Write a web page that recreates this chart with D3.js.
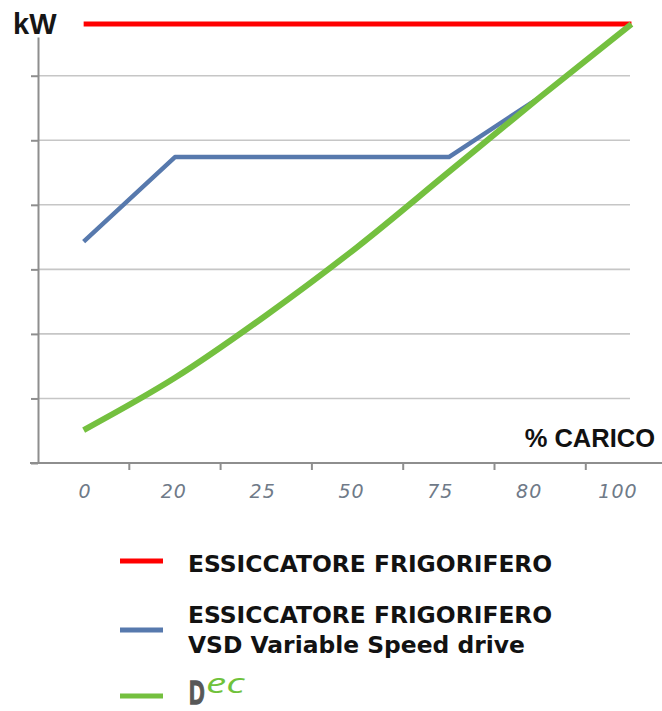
<!DOCTYPE html>
<html><head><meta charset="utf-8">
<script src="https://cdn.jsdelivr.net/npm/d3@7"></script>
<style>html,body{margin:0;padding:0;background:#fff;overflow:hidden}</style>
</head><body><svg id="c" width="662" height="711"></svg>
<script>
// ---- data ----
const categories = ["0", "20", "25", "50", "75", "80", "100"];
const redValues = [6.8, 6.8, 6.8, 6.8, 6.8, 6.8, 6.8];
const blueValues = [3.43, 4.74, 4.74, 4.74, 4.74, 5.67, null];
const greenValues = [0.51, 1.32, 2.29, 3.35, 4.51, 5.67, 6.8];
const yTickValues = [0, 1, 2, 3, 4, 5, 6];
const gridValues = [1, 2, 3, 4, 5, 6];
const yLabel = "kW";
const xLabel = "% CARICO";
const seriesNames = [
  ["ESSICCATORE FRIGORIFERO"],
  ["ESSICCATORE FRIGORIFERO", "VSD Variable Speed drive"],
  ["D", "ec"]
];

// ---- layout ----
const svg = d3.select("#c");
const plotLeft = 38, plotBottom = 463, plotTop = 37, step = 91.3;
const colors = {red: "#ff0000", blue: "#5779ad", green: "#74c03f"};

const x = d3.scaleBand().domain(categories).range([plotLeft, plotLeft + step * categories.length]).padding(0);
const xLab = d3.scalePoint().domain(categories).range([85, 618]);
const y = d3.scaleLinear().domain([0, 6.6]).range([plotBottom, plotTop]);
const cx = c => x(c) + x.bandwidth() / 2;

// gridlines
svg.append("g").selectAll("line").data(gridValues).join("line")
  .attr("x1", plotLeft).attr("x2", 630)
  .attr("y1", d => y(d)).attr("y2", d => y(d))
  .attr("stroke", "#c6c6c6").attr("stroke-width", 1.6);

// y axis
const yAxis = svg.append("g").attr("transform", `translate(${plotLeft},0)`)
  .call(d3.axisLeft(y).tickValues(yTickValues).tickSize(7).tickSizeOuter(0).tickFormat(""));
yAxis.selectAll("path,line").attr("stroke", "#8e8e8e").attr("stroke-width", 2);

// x axis line + boundary ticks
svg.append("line").attr("x1", plotLeft - 8).attr("x2", 662).attr("y1", plotBottom).attr("y2", plotBottom)
  .attr("stroke", "#8e8e8e").attr("stroke-width", 2);
svg.append("g").selectAll("line").data(categories).join("line")
  .attr("x1", d => x(d) + x.step()).attr("x2", d => x(d) + x.step())
  .attr("y1", plotBottom).attr("y2", plotBottom + 7)
  .attr("stroke", "#8e8e8e").attr("stroke-width", 2);

// x labels
svg.append("g").selectAll("text").data(categories).join("text")
  .attr("x", d => xLab(d)).attr("y", 498)
  .attr("text-anchor", "middle")
  .attr("font-family", "DejaVu Sans").attr("font-style", "oblique")
  .attr("font-size", 19).attr("letter-spacing", 1)
  .attr("fill", "#6f7a88")
  .text(d => d);

// axis titles
svg.append("text").attr("x", 13).attr("y", 34)
  .attr("font-family", "Liberation Sans").attr("font-weight", "bold").attr("font-size", 29)
  .attr("fill", "#161616").text(yLabel);
svg.append("text").attr("x", 655).attr("y", 447).attr("text-anchor", "end")
  .attr("font-family", "Liberation Sans").attr("font-weight", "bold").attr("font-size", 25.5)
  .attr("fill", "#111").text(xLabel);

// lines
function drawLine(vals, color, width, curve) {
  const pts = categories.map((c, i) => [c, vals[i]]);
  const gen = d3.line().defined(d => d[1] != null).x(d => cx(d[0])).y(d => y(d[1])).curve(curve);
  svg.append("path").attr("d", gen(pts)).attr("fill", "none")
    .attr("stroke", color).attr("stroke-width", width).attr("stroke-linejoin", "round");
}
drawLine(redValues, colors.red, 5, d3.curveLinear);
drawLine(blueValues, colors.blue, 4.5, d3.curveLinear);
drawLine(greenValues, colors.green, 6, d3.curveMonotoneX);

// legend
const legendY = [561, 630, 696];
const legendColors = [colors.red, colors.blue, colors.green];
const lg = svg.append("g");
lg.selectAll("line").data(legendY).join("line")
  .attr("x1", 120).attr("x2", 163).attr("y1", d => d).attr("y2", d => d)
  .attr("stroke", (d, i) => legendColors[i]).attr("stroke-width", 5);

const txt = (xx, yy, s) => lg.append("text").attr("x", xx).attr("y", yy)
  .attr("font-family", "DejaVu Sans").attr("font-weight", "bold").attr("font-size", 23.4)
  .attr("fill", "#121212").text(s);
txt(188, 571.5, seriesNames[0][0]);
txt(188, 623.3, seriesNames[1][0]);
txt(188, 653.3, seriesNames[1][1]);

// Dec logo
lg.append("text").attr("transform", "translate(189,703.5) scale(0.64,1)")
  .attr("font-family", "Liberation Sans").attr("font-weight", "bold").attr("font-size", 34)
  .attr("fill", "#585858").attr("stroke", "#585858").attr("stroke-width", 1.3)
  .text(seriesNames[2][0]);
lg.append("text").attr("transform", "translate(206,693) scale(1.45,1)")
  .attr("font-family", "Open Sans").attr("font-style", "italic").attr("font-size", 28)
  .attr("fill", "#6fc23b").text(seriesNames[2][1]);
</script>
</body></html>
